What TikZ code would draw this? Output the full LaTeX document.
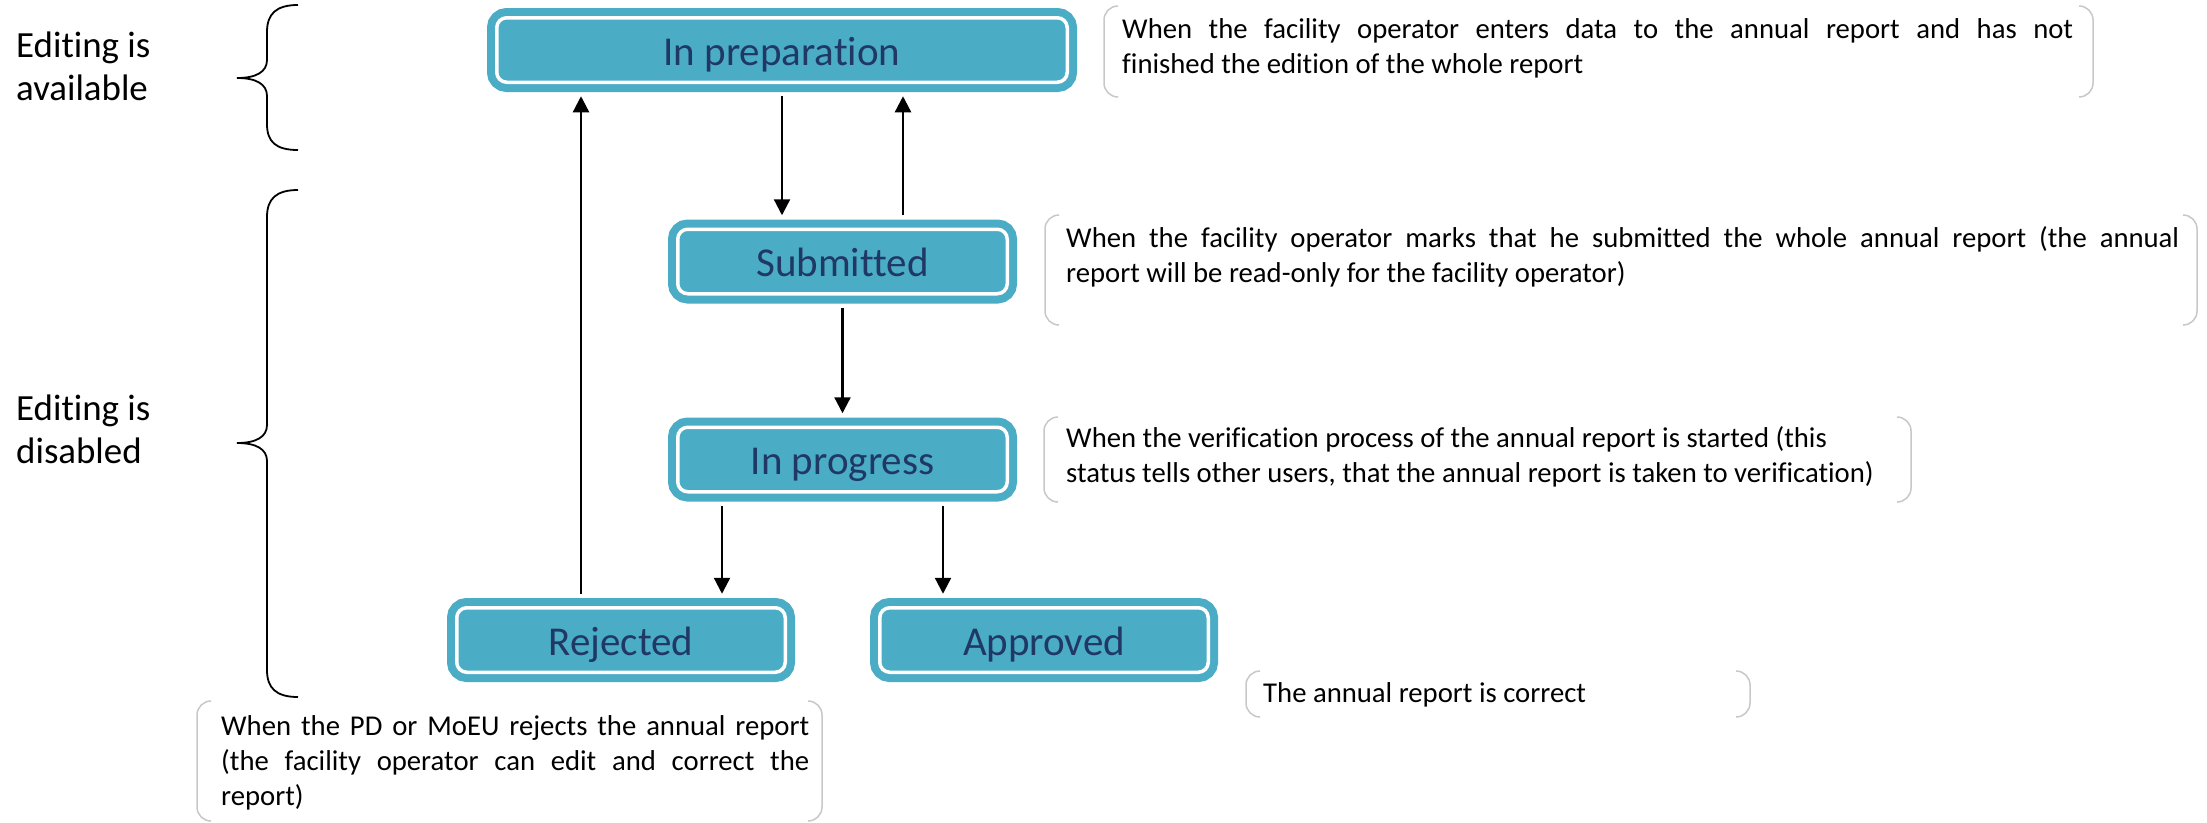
\documentclass[tikz,border=0pt]{standalone}
\usepackage{fontspec}
\setmainfont[Ligatures=NoCommon]{Carlito}
\usetikzlibrary{arrows.meta}
\definecolor{boxteal}{HTML}{4BACC6}
\definecolor{boxtext}{HTML}{1F3864}
\definecolor{brkgray}{HTML}{C8C8C8}
\newcommand{\jline}[2]{\makebox[#1][s]{#2}}
\newcommand{\brkt}[4]{%
  \draw[brk] ({#1+14},#2) -- (#1,#2) -- (#1,#4) -- ({#1+14},#4);
  \draw[brk] ({#3-14},#2) -- (#3,#2) -- (#3,#4) -- ({#3-14},#4);}
\begin{document}
\begin{tikzpicture}[x=1pt,y=-1pt,
  stbox/.style={rectangle, rounded corners=10pt, fill=boxteal, draw=boxteal,
    line width=8pt, double=white, double distance=3.5pt, text=boxtext,
    font=\fontsize{41}{49}\selectfont, inner sep=0pt, outer sep=14pt,
    minimum height=64.5pt, text height=30pt, text depth=0pt},
  arr/.style={line width=2.3pt, -{Triangle[length=16pt,width=16pt]}},
  note/.style={anchor=base west, inner sep=0pt, align=left,
    font=\fontsize{28.7}{35}\selectfont},
  side/.style={anchor=base west, inner sep=0pt, align=left,
    font=\fontsize{36.9}{43}\selectfont},
  brk/.style={draw=brkgray, line width=1.5pt, rounded corners=14pt},
  brace/.style={draw=black, line width=1.8pt}
]
\fill[white] (0,0) rectangle (2207,822);
\useasboundingbox (0,0) rectangle (2207,822);

% state boxes
\node[stbox, minimum width=570.5pt] (prep) at (782,50) {In preparation};
\node[stbox, minimum width=329.5pt] (sub) at (842.5,261.5) {Submitted};
\node[stbox, minimum width=329.5pt] (prog) at (842.5,459.5) {In progress};
\node[stbox, minimum width=328.5pt] (rej) at (621,640) {Rejected};
\node[stbox, minimum width=328.5pt] (app) at (1044,640) {Approved};

% helper x positions for connectors
\coordinate (xup) at (903,0);
\coordinate (xrej) at (581,0);
\coordinate (xpr) at (722,0);
\coordinate (xpa) at (943,0);

% connectors
\draw[arr] (prep.south) -- (prep.south |- sub.north);
\draw[arr] (sub.north -| xup) -- (prep.south -| xup);
\draw[arr] (rej.north -| xrej) -- (prep.south -| xrej);
\draw[arr] (sub.south) -- (prog.north);
\draw[arr] (prog.south -| xpr) -- (rej.north -| xpr);
\draw[arr] (prog.south -| xpa) -- (app.north -| xpa);

% callouts (anchor = baseline of the last line)
\node[note] (n1) at (1122,73) {\jline{951pt}{When the facility operator enters data to the annual report and has not}\\finished the edition of the whole report};
\brkt{1104}{6}{2093}{97}

\node[note] (n2) at (1066,282) {\jline{1113pt}{When the facility operator marks that he submitted the whole annual report (the annual}\\report will be read-only for the facility operator)};
\brkt{1045}{215}{2197}{325}

\node[note] (n3) at (1066,482) {When the verification process of the annual report is started (this\\status tells other users, that the annual report is taken to verification)};
\brkt{1044}{417}{1911}{502}

\node[note] (n4) at (1263,702) {The annual report is correct};
\brkt{1246}{671}{1750}{717}

\node[note] (n5) at (221,805) {\jline{588pt}{When the PD or MoEU rejects the annual report}\\\jline{588pt}{(the facility operator can edit and correct the}\\report)};
\brkt{197}{701}{822}{821}

% side labels
\node[side] (l1) at (16,100) {Editing is\\available};
\node[side] (l2) at (16,463) {Editing is\\disabled};

% braces
\draw[brace] (298,5) .. controls (276,5) and (267,14) .. (267,32) -- (267,60)
  .. controls (267,72) and (256,78) .. (237,78)
  .. controls (256,78) and (267,84) .. (267,96) -- (267,124)
  .. controls (267,142) and (276,150) .. (298,150);
\draw[brace] (298,190) .. controls (276,190) and (267,199) .. (267,217) -- (267,425)
  .. controls (267,437) and (256,443) .. (237,443)
  .. controls (256,443) and (267,449) .. (267,461) -- (267,670)
  .. controls (267,688) and (276,697) .. (298,697);
\end{tikzpicture}
\end{document}
